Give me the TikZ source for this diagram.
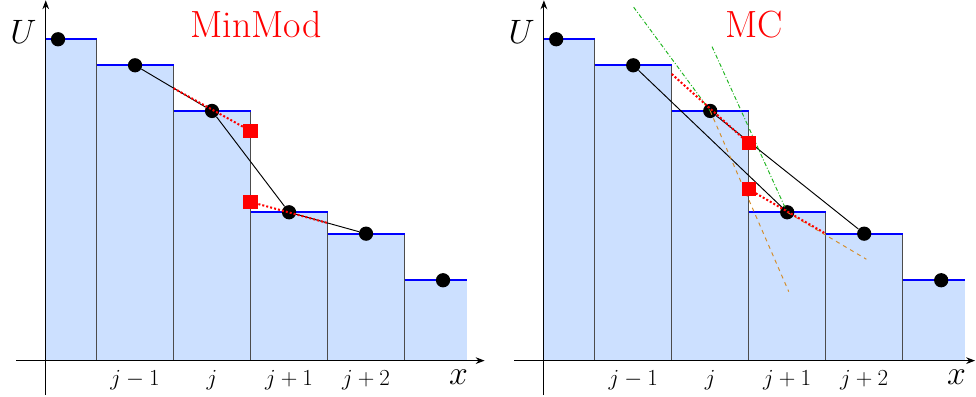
\RequirePackage{fix-cm}
\documentclass[tikz,border=0pt]{standalone}
\usepackage{amsmath, amssymb}
\usepackage{tikz}
\usetikzlibrary{positioning, arrows.meta}

\definecolor{cella}{RGB}{204,224,255}
\definecolor{arancio}{RGB}{212,140,40}
\definecolor{verde}{RGB}{30,180,30}

\begin{document}
\begin{tikzpicture}[x=2cm, y=2cm,
    punto/.style={circle, fill=black, inner sep=0pt, minimum size=0.37cm},
    quadro/.style={rectangle, fill=red, inner sep=0pt, minimum size=0.37cm},
    bordo/.style={draw=black!70, line width=0.6pt},
    livello/.style={blue, line width=1.5pt},
    rosso/.style={red, line width=1.5pt, dash pattern=on 1.5pt off 1.5pt},
    verdino/.style={verde, line width=0.7pt, dash pattern=on 3pt off 1.5pt on 0.7pt off 1.5pt},
    arancione/.style={arancio, line width=0.7pt, dash pattern=on 3pt off 3pt},
    grande/.style={font=\fontsize{25}{30}\selectfont},
    titolone/.style={font=\fontsize{28}{32}\selectfont, text=red},
    piccolo/.style={font=\fontsize{17}{20}\selectfont}]

    \useasboundingbox (-0.594,-0.471) rectangle (12.082,4.684);

    % i due grafici
    \foreach \p/\dx/\fine/\titolo in {a/0/5.70/MinMod, b/6.47/5.60/MC} {
    \begin{scope}[shift={(\dx,0)}]

    % celle
    \foreach \l/\r/\h in {0/0.66/4.174, 0.66/1.66/3.836, 1.66/2.66/3.243,
                          2.66/3.66/1.927, 3.66/4.66/1.649, 4.66/5.47/1.044}
        \fill[cella] (\l,0) rectangle (\r,\h);
    \foreach \r/\h in {0.66/4.174, 1.66/3.836, 2.66/3.243, 3.66/1.927, 4.66/1.649}
        \draw[bordo] (\r,0) -- (\r,\h);
    \foreach \l/\r/\h in {0/0.66/4.174, 0.66/1.66/3.836, 1.66/2.66/3.243,
                          2.66/3.66/1.927, 3.66/4.66/1.649, 4.66/5.47/1.044}
        \draw[livello] (\l,\h) -- (\r,\h);

    % assi
    \draw[-{Stealth}, line width=0.8pt] (-0.386,0) -- (\fine,0); % asse x
    \draw[-{Stealth}, line width=0.8pt] (0,-0.447) -- (0,4.68); % asse y
    \node[grande] (\p U) at (-0.29,4.27) {$U$};
    \node[grande] (\p x) at (5.36,-0.21) {$x$};
    \node[titolone] (\p tit) at (2.73,4.36) {\titolo};

    % indici
    \foreach \c/\t/\n in {1.16/j-1/m, 2.16/j/j, 3.16/j+1/p, 4.16/j+2/q}
        \node[piccolo] (\p\n) at (\c,-0.26) {$\t$};

    % medie di cella
    \foreach \c/\h [count=\i] in {0.16/4.174, 1.16/3.836, 2.16/3.243,
                                  3.16/1.927, 4.16/1.649, 5.16/1.044}
        \node[punto] (\p\i) at (\c,\h) {};

    \end{scope}
    }

    % MinMod
    \draw[line width=0.7pt] (a2) -- (a3) -- (a4) -- (a5);
    \coordinate (aL) at (1.66,3.538);
    \coordinate (aS) at (2.66,2.983);
    \coordinate (aI) at (2.66,2.061);
    \coordinate (aR) at (3.66,1.788);
    \draw[rosso] (aL) -- (aS);
    \draw[rosso] (aI) -- (aR);
    \node[quadro] (aSq) at (aS) {};
    \node[quadro] (aIq) at (aI) {};

    % MC
    \begin{scope}[shift={(6.47,0)}]
    \draw[line width=0.7pt] (b2) -- (b4);
    \draw[line width=0.7pt] (b3) -- (b5);
    \coordinate (bG1) at (1.166,4.59);
    \coordinate (bG2) at (2.184,4.078);
    \coordinate (bO1) at (3.18,0.896);
    \coordinate (bO2) at (4.188,1.317);
    \draw[verdino] (bG1) -- (b3.center);
    \draw[verdino] (bG2) -- (b4.center);
    \draw[arancione] (b3.center) -- (bO1);
    \draw[arancione] (b4.center) -- (bO2);
    \coordinate (bL) at (1.66,3.723);
    \coordinate (bS) at (2.66,2.823);
    \coordinate (bI) at (2.66,2.226);
    \coordinate (bR) at (3.66,1.649);
    \draw[rosso] (bL) -- (bS);
    \draw[rosso] (bI) -- (bR);
    \node[quadro] (bSq) at (bS) {};
    \node[quadro] (bIq) at (bI) {};
    \end{scope}

\end{tikzpicture}
\end{document}
